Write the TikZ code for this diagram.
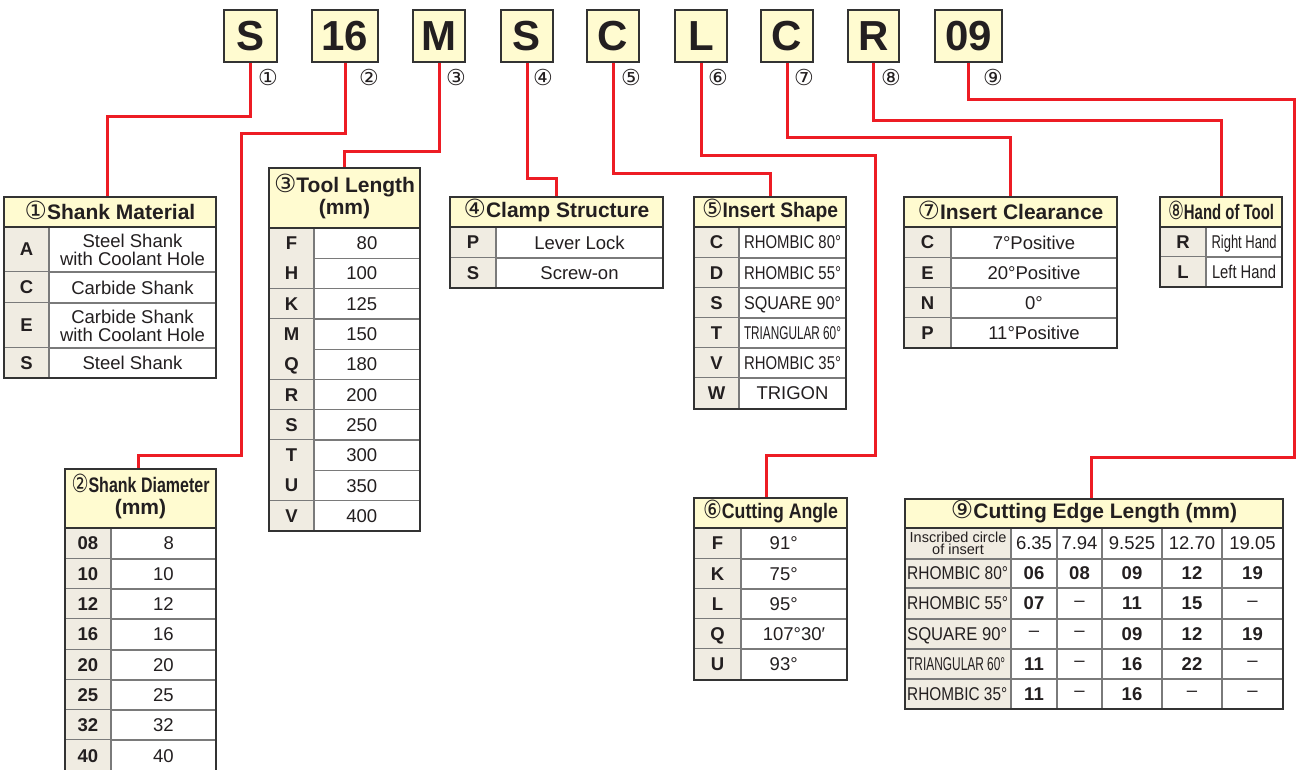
\documentclass[tikz,border=0pt]{standalone}
\usepackage{fontspec}
\usepackage{graphicx}
\setmainfont{Liberation Sans}
\newfontfamily\cfont{DejaVu Sans}
\definecolor{hdr}{HTML}{FFFBD0}
\definecolor{codec}{HTML}{F0ECE2}
\definecolor{bord}{HTML}{333333}
\definecolor{inner}{HTML}{7A7A7A}
\definecolor{redl}{HTML}{ED1C24}
\definecolor{ink}{HTML}{231F20}
\newcommand\cn[1]{\smash{\cfont\mdseries\fontsize{25}{22}\selectfont #1}}
\newcommand\cw[2]{\resizebox{#1pt}{\height}{#2}}
\newcommand\dd{{\mdseries –}}
\tikzset{
 redline/.style={draw=redl, line width=3pt, shorten >=1pt},
 letterbox/.style={draw=bord, line width=1.5pt, fill=hdr, inner sep=0pt, font=\fontsize{42}{42}\selectfont\bfseries, text=ink},
 circnum/.style={font=\cfont\fontsize{22}{22}\selectfont, text=ink, inner sep=0pt},
 hdrcell/.style={fill=hdr, inner sep=0pt, align=center, font=\fontsize{21}{22}\selectfont\bfseries, text=ink},
 codetext/.style={font=\fontsize{18.5}{18}\selectfont\bfseries, text=ink, inner sep=0pt, text depth=0pt},
 bodytext/.style={font=\fontsize{18.5}{18}\selectfont, text=ink, inner sep=0pt, align=center, text depth=0pt},
 valtext/.style={font=\fontsize{18.5}{18}\selectfont\bfseries, text=ink, inner sep=0pt, text depth=0pt},
 rowline/.style={draw=inner, line width=1.3pt},
 frame/.style={draw=bord, line width=2.4pt},
}
% #1 name #2 left #3 divider #4 right #5 top #6 header bottom #7 bottom #8 header #9 rows
\newcommand\mytable[9]{%
  \node[hdrcell, minimum width={(#4-#2)*1pt}, minimum height={(#6-#5)*1pt}] (#1) at ({(#2+#4)/2},{(#5+#6)/2}) {#8};
  \foreach \yb/\cd/\tx [remember=\yb as \ya (initially #6)] in {#9} {
    \fill[codec] (#2,\ya) rectangle (#3,\yb);
    \node[codetext] at ({(#2+#3)/2},{(\ya+\yb)/2}) {\cd};
    \node[bodytext] at ({(#3+#4)/2},{(\ya+\yb)/2}) {\tx};
    \draw[rowline] (#2,\yb) -- (#4,\yb);
  }
  \draw[rowline] (#3,#6) -- (#3,#7);
  \draw[frame] (#2,#6) -- (#4,#6);
  \draw[frame] (#2,#5) rectangle (#4,#7);
}
\begin{document}
\begin{tikzpicture}[x=1pt,y=-1pt]
\useasboundingbox (0,0) rectangle (1296,769);
\fill[white] (0,0) rectangle (1296,769);

% code letters
\node[letterbox, minimum width=53pt, minimum height=52pt] (l1) at (250.5,36) {S};
\node[letterbox, minimum width=66pt, minimum height=52pt] (l2) at (345,36) {16};
\node[letterbox, minimum width=52pt, minimum height=52pt] (l3) at (439,36) {M};
\node[letterbox, minimum width=52pt, minimum height=52pt] (l4) at (527,36) {S};
\node[letterbox, minimum width=52pt, minimum height=52pt] (l5) at (613,36) {C};
\node[letterbox, minimum width=52pt, minimum height=52pt] (l6) at (701,36) {L};
\node[letterbox, minimum width=52pt, minimum height=52pt] (l7) at (787,36) {C};
\node[letterbox, minimum width=51pt, minimum height=52pt] (l8) at (873.5,36) {R};
\node[letterbox, minimum width=67pt, minimum height=52pt] (l9) at (968.5,36) {09};

\node[circnum] (n1) at (268,77) {①};
\node[circnum] (n2) at (369,77) {②};
\node[circnum] (n3) at (456,77) {③};
\node[circnum] (n4) at (543,77) {④};
\node[circnum] (n5) at (631,77) {⑤};
\node[circnum] (n6) at (718,77) {⑥};
\node[circnum] (n7) at (804,77) {⑦};
\node[circnum] (n8) at (891,77) {⑧};
\node[circnum] (n9) at (993,77) {⑨};

% tables
\mytable{h1}{4}{49}{216}{197}{227}{378}{\cn{①}Shank Material}{272/A/{Steel Shank\\with Coolant Hole}, 303/C/Carbide Shank, 348/E/{Carbide Shank\\with Coolant Hole}, 378/S/Steel Shank}

\mytable{h2}{65}{111}{216}{469}{528}{772}{\cw{138}{\cn{②}Shank Diameter}\\(mm)}{559/08/\hphantom{0}8, 589/10/10, 619/12/12, 650/16/16, 680/20/20, 710/25/25, 740/32/32, 772/40/40}

\mytable{h3}{269}{314}{420}{168}{228}{531}{\cn{③}Tool Length\\(mm)}{258.3/F/\hphantom{0}80\hphantom{0}, 288.6/H/100\hphantom{0}, 318.9/K/125\hphantom{0}, 349.2/M/150\hphantom{0}, 379.5/Q/180\hphantom{0}, 409.8/R/200\hphantom{0}, 440.1/S/250\hphantom{0}, 470.4/T/300\hphantom{0}, 500.7/U/350\hphantom{0}, 531/V/400\hphantom{0}}

\mytable{h4}{450}{496}{663}{197}{227}{288}{\cn{④}Clamp Structure}{258/P/Lever Lock, 288/S/Screw-on}

\mytable{h5}{694}{739}{846}{197}{227}{409}{\cw{136}{\cn{⑤}Insert Shape}}{258/C/\cw{97}{RHOMBIC 80°}, 288/D/\cw{97}{RHOMBIC 55°}, 318/S/\cw{97}{SQUARE 90°}, 348/T/\cw{97}{TRIANGULAR 60°}, 378/V/\cw{97}{RHOMBIC 35°}, 409/W/TRIGON}

\mytable{h6}{694}{741}{847}{498}{528}{680}{\cw{135}{\cn{⑥}Cutting Angle}}{559/F/91°\hphantom{00}, 589/K/75°\hphantom{00}, 619/L/95°\hphantom{00}, 649/Q/107°30′, 680/U/93°\hphantom{00}}

\mytable{h7}{904}{951}{1117}{197}{227}{348}{\cn{⑦}Insert Clearance}{258/C/7°Positive, 288/E/20°Positive, 318/N/0°, 348/P/11°Positive}

\mytable{h8}{1160}{1206}{1282}{197}{227}{287}{\cw{106}{\cn{⑧}Hand of Tool}}{257/R/\cw{65}{Right Hand}, 287/L/\cw{64}{Left Hand}}

% table 9
\node[hdrcell, minimum width=378pt, minimum height=29pt] (h9) at (1094,513.5) {\cn{⑨}Cutting Edge Length (mm)};
\fill[codec] (905,528) rectangle (1011,709);
\node[font=\fontsize{14.5}{12}\selectfont, align=center, text=ink, inner sep=0pt] (ic) at (958,543.5) {Inscribed circle\\of insert};
\foreach \x/\v in {1034/6.35, 1079.5/7.94, 1132/9.525, 1192/12.70, 1252.5/19.05}
  \node[bodytext] at (\x,543.5) {\v};
\foreach \y/\lab/\w/\a/\b/\c/\d/\e in {
  573.5/{RHOMBIC 80°}/101/06/08/09/12/19,
  603.5/{RHOMBIC 55°}/101/07/\dd/11/15/\dd,
  634/{SQUARE 90°}/100/\dd/\dd/09/12/19,
  664/{TRIANGULAR 60°}/98/11/\dd/16/22/\dd,
  694/{RHOMBIC 35°}/100/11/\dd/16/\dd/\dd} {
  \node[bodytext, anchor=west] at (907,\y) {\cw{\w}{\lab}};
  \node[valtext] at (1034,\y) {\a};
  \node[valtext] at (1079.5,\y) {\b};
  \node[valtext] at (1132,\y) {\c};
  \node[valtext] at (1192,\y) {\d};
  \node[valtext] at (1252.5,\y) {\e};
}
\foreach \y in {559,588,619,649,679}
  \draw[rowline] (905,\y) -- (1283,\y);
\foreach \x in {1011,1057,1102,1162,1222}
  \draw[rowline] (\x,528) -- (\x,709);
\draw[frame] (905,528) -- (1283,528);
\draw[frame] (905,499) rectangle (1283,709);

% connectors
\draw[redline] (l1.south) |- ([xshift=-3pt]h1.north |- 0,116) -- ([xshift=-3pt]h1.north);
\draw[redline] (l2.south) |- (241,133) |- ([xshift=-2.5pt]h2.north |- 0,455) -- ([xshift=-2.5pt]h2.north);
\draw[redline] (l3.south) |- (h3.north |- 0,151) -- (h3.north);
\draw[redline] (l4.south) |- (h4.north |- 0,178) -- (h4.north);
\draw[redline] (l5.south) |- (h5.north |- 0,173) -- (h5.north);
\draw[redline] (l6.south) |- (875,155) |- ([xshift=-4pt]h6.north |- 0,455) -- ([xshift=-4pt]h6.north);
\draw[redline] (l7.south) |- (h7.north |- 0,137) -- (h7.north);
\draw[redline] (l8.south) |- (h8.north |- 0,120) -- (h8.north);
\draw[redline] (l9.south) |- (1294,99) |- ([xshift=-3pt]h9.north |- 0,457) -- ([xshift=-3pt]h9.north);
\end{tikzpicture}
\end{document}
